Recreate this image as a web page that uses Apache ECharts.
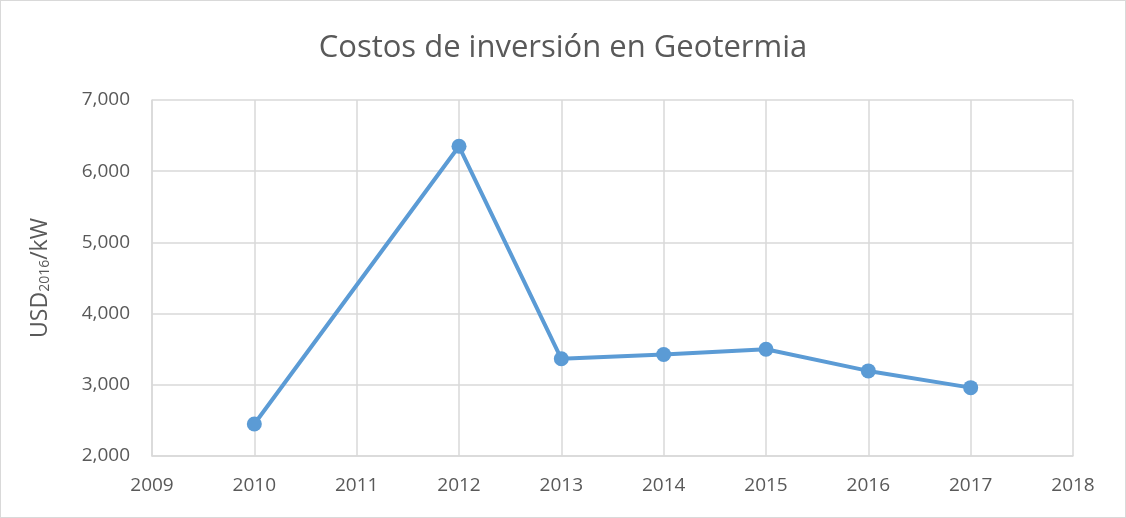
<!DOCTYPE html>
<html>
<head>
<meta charset="utf-8">
<script src="https://cdn.jsdelivr.net/npm/echarts@6/dist/echarts.min.js"></script>
<style>
    html, body { margin: 0; padding: 0; background: #fff; }
    .chart { width: 1126px; height: 518px; box-sizing: border-box; border: 1px solid #d9d9d9; }
</style>
</head>
<body>
<div class="chart"></div>
<script>
var years = [2010, 2012, 2013, 2014, 2015, 2016, 2017];
var costs = [2450, 6350, 3365, 3425, 3500, 3195, 2960];

(function () {
    var myChart = echarts.init(document.querySelector('.chart'));
    var textColor = '#595959';
    var gridColor = '#d9d9d9';
    var points = [];
    for (var i = 0; i < years.length; i++) {
        points.push([years[i], costs[i]]);
    }
    var option = {
        animation: false,
        textStyle: { fontFamily: 'Open Sans' },
        title: {
            text: 'Costos de inversión en Geotermia',
            left: 'center',
            top: 27,
            textStyle: { color: textColor, fontSize: 31, fontWeight: 'normal' }
        },
        grid: {
            left: 151,
            right: 52,
            top: 99,
            bottom: 61
        },
        xAxis: {
            type: 'value',
            min: 2009,
            max: 2018,
            interval: 1,
            axisLabel: {
                color: textColor,
                fontSize: 19,
                margin: 20,
                formatter: function (v) { return String(v); }
            },
            axisTick: { show: false },
            axisLine: { lineStyle: { color: gridColor, width: 1.5 } },
            splitLine: { show: true, lineStyle: { color: gridColor, width: 1.5 } }
        },
        yAxis: {
            type: 'value',
            min: 2000,
            max: 7000,
            interval: 1000,
            name: '{m|USD}{s|2016}{m|/kW}',
            nameLocation: 'middle',
            nameGap: 100,
            nameTextStyle: {
                rich: {
                    m: { color: textColor, fontSize: 23, fontFamily: 'Open Sans' },
                    s: { color: textColor, fontSize: 14, fontFamily: 'Open Sans', verticalAlign: 'bottom', padding: [10, 0, 0, 0] }
                }
            },
            axisLabel: {
                color: textColor,
                fontSize: 19,
                margin: 22,
                formatter: function (v) { return v.toLocaleString('en-US'); }
            },
            axisTick: { show: false },
            axisLine: { show: true, lineStyle: { color: gridColor, width: 1.5 } },
            splitLine: { lineStyle: { color: gridColor, width: 1.5 } }
        },
        series: [
            {
                type: 'line',
                data: points,
                symbol: 'circle',
                symbolSize: 15,
                itemStyle: { color: '#5b9bd5' },
                lineStyle: { color: '#5b9bd5', width: 4 }
            }
        ]
    };
    myChart.setOption(option);
})();
</script>
</body>
</html>
